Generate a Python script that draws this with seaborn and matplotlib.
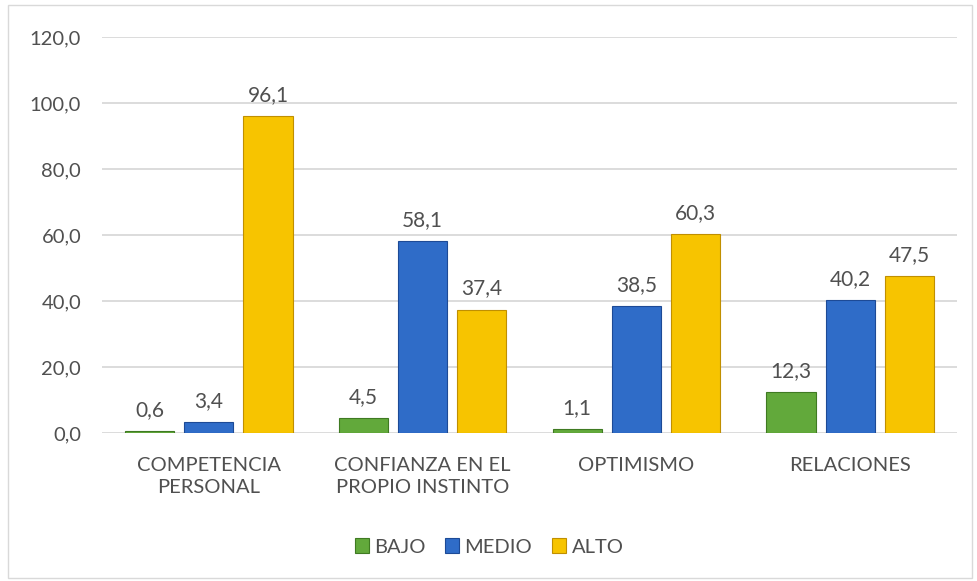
import matplotlib
matplotlib.use("Agg")
import matplotlib.pyplot as plt
import seaborn as sns
import pandas as pd
from matplotlib.patches import Rectangle

categories = ["COMPETENCIA\nPERSONAL", "CONFIANZA EN EL\nPROPIO INSTINTO", "OPTIMISMO", "RELACIONES"]
levels = ["BAJO", "MEDIO", "ALTO"]
bajo = [0.6, 4.5, 1.1, 12.3]
medio = [3.4, 58.1, 38.5, 40.2]
alto = [96.1, 37.4, 60.3, 47.5]
yticks = [0, 20, 40, 60, 80, 100, 120]

colors = {"BAJO": "#62a93b", "MEDIO": "#2f6cc8", "ALTO": "#f7c400"}
edges = {"BAJO": "#3f7a22", "MEDIO": "#1d4a96", "ALTO": "#c08f00"}

rows = []
for lvl, vals in zip(levels, [bajo, medio, alto]):
    for c, v in zip(categories, vals):
        rows.append({"cat": c, "nivel": lvl, "valor": v})
df = pd.DataFrame(rows)

sns.set_theme(style="white")
plt.rcParams["font.family"] = ["Lato", "DejaVu Sans"]

txt = "#505050"
fig = plt.figure(figsize=(9.78, 5.81), dpi=100)
ax = fig.add_axes([102 / 978, 1 - 433 / 581, 855 / 978, 396 / 581])

sns.barplot(data=df, x="cat", y="valor", hue="nivel", hue_order=levels,
            palette=colors, width=0.83, gap=0.17, ax=ax, legend=False,
            errorbar=None, saturation=1)

for cont, lvl in zip(ax.containers, levels):
    for p in cont:
        p.set_edgecolor(edges[lvl])
        p.set_linewidth(0.8)
        p.set_zorder(3)
    ax.bar_label(cont, labels=[f"{v:.1f}".replace(".", ",") for v in cont.datavalues],
                 padding=8, fontsize=15, color=txt)

ax.set_xlim(-0.5, 3.5)
ax.set_ylim(0, 120)
ax.set_yticks(yticks)
ax.set_yticklabels([f"{v:.1f}".replace(".", ",") for v in yticks], fontsize=14.5, color=txt)
ax.tick_params(axis="x", labelsize=14.5, labelcolor=txt, length=0, pad=17)
for t in ax.get_xticklabels():
    t.set_linespacing(1.35)
ax.tick_params(axis="y", length=0, pad=15)
ax.grid(axis="y", color="#d9d9d9", linewidth=1.3, zorder=0)
ax.set_axisbelow(True)
for s in ax.spines.values():
    s.set_visible(False)
ax.set_xlabel("")
ax.set_ylabel("")

handles = [Rectangle((0, 0), 1, 1, facecolor=colors[l], edgecolor=edges[l], linewidth=0.8) for l in levels]
fig.legend(handles, levels, loc="center", bbox_to_anchor=(0.5, 1 - 547 / 581), ncol=3,
           frameon=False, fontsize=14.5, handlelength=0.7, handleheight=0.7,
           handletextpad=0.25, columnspacing=1.0, labelcolor=txt)

fig.patches.append(Rectangle((8 / 978, 3 / 581), 964 / 978, 573 / 581, transform=fig.transFigure,
                             fill=False, edgecolor="#d9d9d9", linewidth=1))

fig.savefig("out.png", dpi=100)
